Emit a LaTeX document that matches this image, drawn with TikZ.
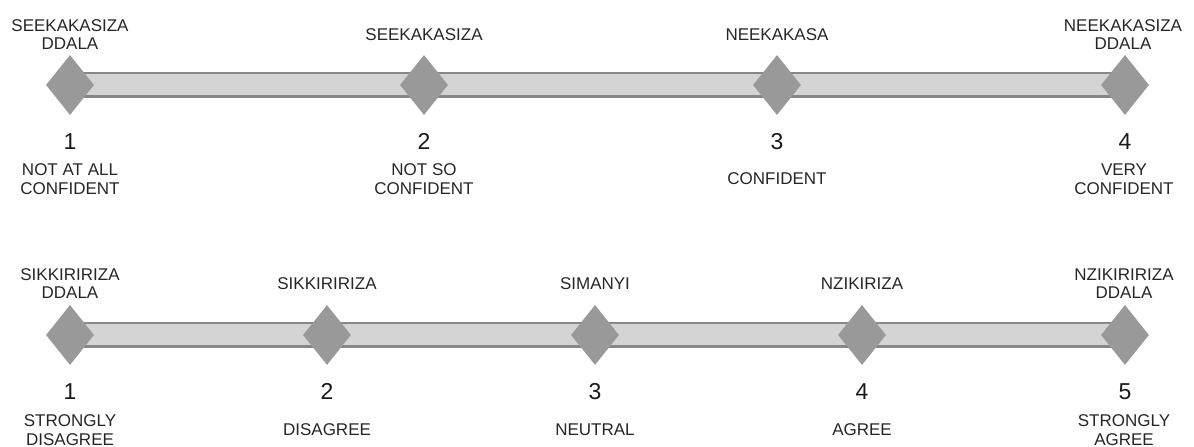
\documentclass[tikz,border=0pt]{standalone}
\usepackage{fontspec}
\setmainfont{Liberation Sans}
\usetikzlibrary{shapes.geometric,backgrounds}

\begin{document}
\begin{tikzpicture}[x=1pt,y=1pt,
    pointer/.style={diamond, fill=black!40, inner sep=0pt, minimum width=48pt, minimum height=60pt},
    word/.style={align=center, text=black!85, font=\fontsize{17}{18.5}\selectfont},
    num/.style={text=black!90, font=\fontsize{23}{26}\selectfont},
    barout/.style={line width=26pt, draw=black!47},
    barin/.style={line width=21pt, draw=black!17}]

    \useasboundingbox (0,0) rectangle (1194,447);

    % confidence scale
    \node[pointer] (c1) at (70,362) {};
    \node[pointer] (c2) at (424,362) {};
    \node[pointer] (c3) at (777,362) {};
    \node[pointer] (c4) at (1125,362) {};

    \node[word] (c1top) at (70,412.5) {SEEKAKASIZA\\DDALA};
    \node[word] (c2top) at (424,412.5) {SEEKAKASIZA};
    \node[word] (c3top) at (777,412.5) {NEEKAKASA};
    \node[word] (c4top) at (1123,412.5) {NEEKAKASIZA\\DDALA};

    \node[num] (c1num) at (70,305.5) {1};
    \node[num] (c2num) at (424,305.5) {2};
    \node[num] (c3num) at (777,305.5) {3};
    \node[num] (c4num) at (1125,305.5) {4};

    \node[word] (c1bot) at (70,268) {NOT AT ALL\\CONFIDENT};
    \node[word] (c2bot) at (424,268) {NOT SO\\CONFIDENT};
    \node[word] (c3bot) at (777,268) {CONFIDENT};
    \node[word] (c4bot) at (1124,268) {VERY\\CONFIDENT};

    % agreement scale
    \node[pointer] (g1) at (70,112) {};
    \node[pointer] (g2) at (327,112) {};
    \node[pointer] (g3) at (595,112) {};
    \node[pointer] (g4) at (862,112) {};
    \node[pointer] (g5) at (1125,112) {};

    \node[word] (g1top) at (70,163.5) {SIKKIRIRIZA\\DDALA};
    \node[word] (g2top) at (327,163.5) {SIKKIRIRIZA};
    \node[word] (g3top) at (595,163.5) {SIMANYI};
    \node[word] (g4top) at (862,163.5) {NZIKIRIZA};
    \node[word] (g5top) at (1124,163.5) {NZIKIRIRIZA\\DDALA};

    \node[num] (g1num) at (70,55.5) {1};
    \node[num] (g2num) at (327,55.5) {2};
    \node[num] (g3num) at (595,55.5) {3};
    \node[num] (g4num) at (862,55.5) {4};
    \node[num] (g5num) at (1125,55.5) {5};

    \node[word] (g1bot) at (70,17) {STRONGLY\\DISAGREE};
    \node[word] (g2bot) at (327,17) {DISAGREE};
    \node[word] (g3bot) at (595,17) {NEUTRAL};
    \node[word] (g4bot) at (862,17) {AGREE};
    \node[word] (g5bot) at (1124,17) {STRONGLY\\AGREE};

    % bars behind the diamonds
    \begin{scope}[on background layer]
      \draw[barout] (c1.center) -- (c4.center);
      \draw[barin] (c1.center) -- (c4.center);
      \draw[barout] (g1.center) -- (g5.center);
      \draw[barin] (g1.center) -- (g5.center);
    \end{scope}
\end{tikzpicture}
\end{document}
